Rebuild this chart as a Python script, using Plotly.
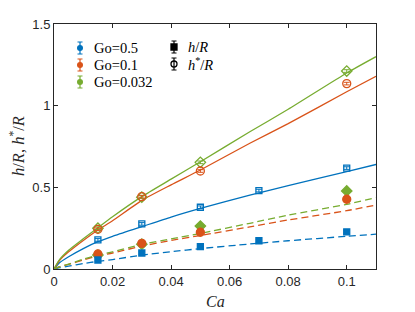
import plotly.graph_objects as go

# ---------------- data ----------------
ca_blue = [0.015, 0.03, 0.05, 0.07, 0.1]
hstar_blue = [0.178, 0.276, 0.378, 0.48, 0.618]
h_blue = [0.055, 0.098, 0.137, 0.173, 0.227]

ca_orange = [0.015, 0.03, 0.05, 0.1]
hstar_orange = [0.243, 0.443, 0.6, 1.135]
h_orange = [0.092, 0.157, 0.225, 0.427]

ca_green = [0.015, 0.03, 0.05, 0.1]
hstar_green = [0.25, 0.44, 0.653, 1.212]
h_green = [0.085, 0.152, 0.263, 0.478]

err = 0.008

# fitted curves (read at these Ca values)
ca_fit = [0, 0.002, 0.005, 0.01, 0.015, 0.02, 0.03, 0.04, 0.05, 0.0669, 0.08, 0.1, 0.11]
fit_star_green = [0, 0.06, 0.115, 0.185, 0.253, 0.32, 0.443, 0.55, 0.657, 0.84, 0.978, 1.2, 1.3]
fit_star_orange = [0, 0.055, 0.105, 0.175, 0.239, 0.295, 0.42, 0.515, 0.606, 0.77, 0.89, 1.085, 1.18]
fit_star_blue = [0, 0.04, 0.075, 0.125, 0.167, 0.2, 0.259, 0.318, 0.371, 0.453, 0.51, 0.596, 0.64]
fit_h_green = [0, 0.015, 0.03, 0.06, 0.085, 0.105, 0.15, 0.185, 0.218, 0.28, 0.33, 0.396, 0.437]
fit_h_orange = [0, 0.014, 0.028, 0.055, 0.08, 0.098, 0.14, 0.175, 0.205, 0.258, 0.3, 0.357, 0.392]
fit_h_blue = [0, 0.008, 0.017, 0.033, 0.047, 0.058, 0.085, 0.106, 0.125, 0.153, 0.173, 0.2, 0.213]

x_ticks = [0, 0.02, 0.04, 0.06, 0.08, 0.1]
x_tick_labels = ["0", "0.02", "0.04", "0.06", "0.08", "0.1"]
y_ticks = [0, 0.5, 1, 1.5]
y_tick_labels = ["0", "0.5", "1", "1.5"]

legend_go_labels = ["Go=0.5", "Go=0.1", "Go=0.032"]
legend_h_labels = ["<i>h</i>/<i>R</i>", "<i>h</i><sup>*</sup>/<i>R</i>"]

# ---------------- styles ----------------
BLUE = "#0072BD"
ORANGE = "#D95319"
GREEN = "#77AC30"
AXC = "#262626"
colors = [BLUE, ORANGE, GREEN]
SERIF = "Liberation Serif, DejaVu Serif, serif"
SANS = "Liberation Sans, Arial, sans-serif"

PAGE_W, PAGE_H = 415, 312
OFF = 8  # default body margin of the html page
W, H = PAGE_W - OFF, PAGE_H - OFF
PX_L, PX_R, PX_T, PX_B = 54, 376, 24, 269  # plot area in page pixels
L, T = PX_L - OFF, PX_T - OFF
R, B = W - (PX_R - OFF), H - (PX_B - OFF)

def paper_x(px):
    return (px - PX_L) / (PX_R - PX_L)

def paper_y(py):
    return (PX_B - py) / (PX_B - PX_T)

fig = go.Figure()

def curve(y, color, dash):
    fig.add_trace(go.Scatter(x=ca_fit, y=y, mode="lines", line=dict(color=color, width=1.3, dash=dash, shape="spline", smoothing=0.6), showlegend=False, hoverinfo="skip"))

curve(fit_star_blue, BLUE, "solid")
curve(fit_star_orange, ORANGE, "solid")
curve(fit_star_green, GREEN, "solid")
curve(fit_h_blue, BLUE, "7px,4px")
curve(fit_h_orange, ORANGE, "7px,4px")
curve(fit_h_green, GREEN, "7px,4px")

def pts(x, y, color, symbol, size):
    fig.add_trace(go.Scatter(x=x, y=y, mode="markers",
                             marker=dict(color=color, symbol=symbol, size=size, line=dict(color=color, width=1.3)),
                             error_y=dict(type="constant", value=err, color=color, thickness=1, width=3),
                             showlegend=False))

pts(ca_green, hstar_green, GREEN, "diamond-open", 8)
pts(ca_green, h_green, GREEN, "diamond", 8)
pts(ca_orange, hstar_orange, ORANGE, "circle-open", 8)
pts(ca_orange, h_orange, ORANGE, "circle", 8)
pts(ca_blue, hstar_blue, BLUE, "square-open", 6)
pts(ca_blue, h_blue, BLUE, "square", 6)

# ---------------- legend keys on a pixel overlay axis ----------------
leg1_x, leg1_rows = 80, [48, 65, 82]
leg2_x, leg2_rows = 174, [47, 64]
for i, lab in enumerate(legend_go_labels):
    fig.add_trace(go.Scatter(x=[leg1_x], y=[leg1_rows[i]], xaxis="x2", yaxis="y2", mode="markers",
                             marker=dict(color=colors[i], symbol="circle", size=6),
                             error_y=dict(type="constant", value=6, color=colors[i], thickness=1.2, width=2.5),
                             showlegend=False, hoverinfo="skip"))
    fig.add_annotation(x=leg1_x + 12, y=leg1_rows[i], xref="x2", yref="y2", text=lab, showarrow=False,
                       xanchor="left", yanchor="middle", font=dict(family=SERIF, size=14.5, color="black"))
for i, (lab, sym) in enumerate(zip(legend_h_labels, ["square", "circle-open"])):
    fig.add_trace(go.Scatter(x=[leg2_x], y=[leg2_rows[i]], xaxis="x2", yaxis="y2", mode="markers",
                             marker=dict(color="black", symbol=sym, size=6, line=dict(color="black", width=1.3)),
                             error_y=dict(type="constant", value=6, color="black", thickness=1.2, width=2.5),
                             showlegend=False, hoverinfo="skip"))
    fig.add_annotation(x=leg2_x + 12, y=leg2_rows[i], xref="x2", yref="y2", text=lab, showarrow=False,
                       xanchor="left", yanchor="middle", font=dict(family=SERIF, size=14.5, color="black"))

# axis titles (paper coordinates so they are not clipped)
fig.add_annotation(x=0.5, y=paper_y(301), xref="paper", yref="paper", yanchor="middle", text="<i>Ca</i>",
                   showarrow=False, font=dict(family=SERIF, size=16, color=AXC))
fig.add_annotation(x=paper_x(17.5), y=0.5, xref="paper", yref="paper", textangle=-90,
                   xanchor="center", yanchor="middle",
                   text="<i>h</i>/<i>R</i>, <i>h</i><sup>*</sup>/<i>R</i>", showarrow=False,
                   font=dict(family=SERIF, size=16.5, color=AXC))

axis_common = dict(showgrid=False, zeroline=False, showline=True, linecolor=AXC, linewidth=1,
                   mirror="ticks", ticks="inside", ticklen=4, tickcolor=AXC, tickwidth=1,
                   tickfont=dict(family=SANS, size=13, color=AXC))
fig.update_layout(
    width=W, height=H, margin=dict(l=L, r=R, t=T, b=B, autoexpand=False),
    paper_bgcolor="white", plot_bgcolor="white", showlegend=False,
    xaxis=dict(range=[0, 0.11], tickvals=x_ticks, ticktext=x_tick_labels, **axis_common),
    yaxis=dict(range=[0, 1.5], tickvals=y_ticks, ticktext=y_tick_labels, **axis_common),
    xaxis2=dict(range=[PX_L, PX_R], overlaying="x", visible=False, fixedrange=True),
    yaxis2=dict(range=[PX_B, PX_T], overlaying="y", visible=False, fixedrange=True),
)

fig.write_html("out.html")
